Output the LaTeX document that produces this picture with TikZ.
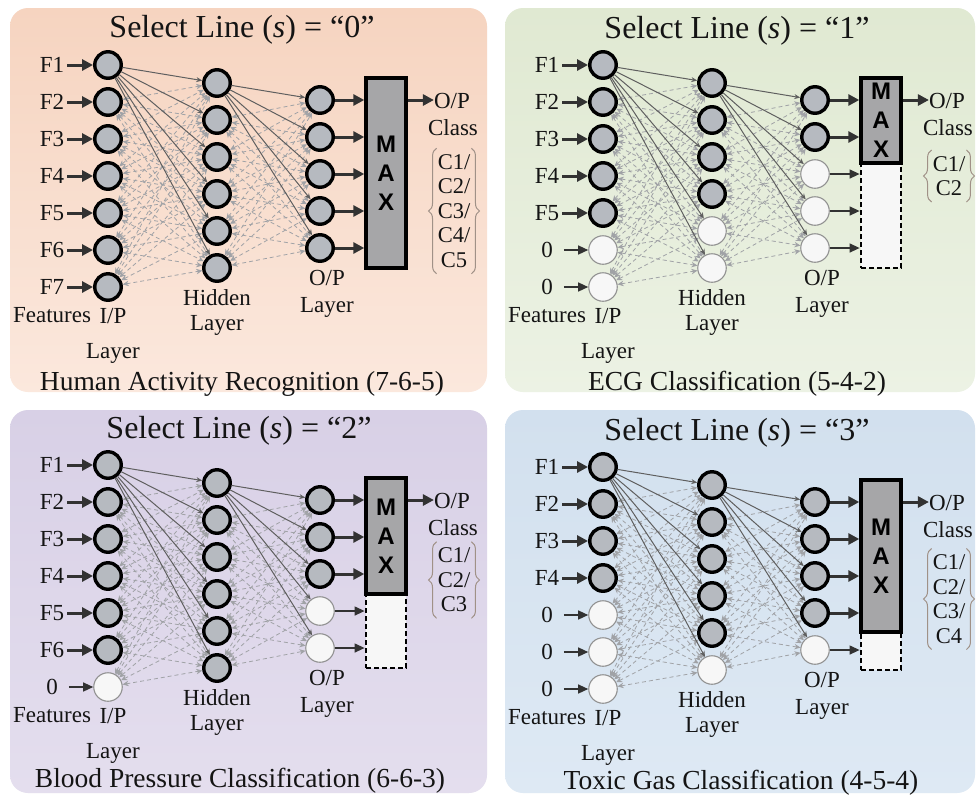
\documentclass[tikz,border=0pt]{standalone}
\usepackage{fontspec}
\setmainfont{Liberation Serif}
\newfontfamily\maxfont{Liberation Sans}
\usetikzlibrary{arrows.meta,decorations.pathreplacing}
\definecolor{nodegray}{RGB}{182,186,192}
\definecolor{boxgray}{RGB}{166,166,168}
\definecolor{inactborder}{RGB}{145,145,145}
\definecolor{inactfill}{RGB}{247,247,247}
\definecolor{solidgray}{RGB}{95,95,95}
\definecolor{dashgray}{RGB}{160,162,166}
\definecolor{arrgray}{RGB}{50,50,50}
\definecolor{bracec}{RGB}{160,145,135}
\definecolor{textc}{RGB}{20,20,20}
\definecolor{pAt}{RGB}{246,212,192}
\definecolor{pAb}{RGB}{251,232,221}
\definecolor{pBt}{RGB}{224,233,210}
\definecolor{pBb}{RGB}{236,242,228}
\definecolor{pCt}{RGB}{216,208,230}
\definecolor{pCb}{RGB}{228,222,238}
\definecolor{pDt}{RGB}{210,224,238}
\definecolor{pDb}{RGB}{222,233,244}
\tikzset{
  act/.style={circle, draw=black, line width=3.4pt, fill=nodegray, minimum size=26.5pt, inner sep=0pt},
  inact/.style={circle, draw=inactborder, line width=1.1pt, fill=inactfill, minimum size=28.5pt, inner sep=0pt},
  solidcon/.style={draw=solidgray, line width=1pt, -{Stealth[length=6pt,width=5pt]}},
  dashcon/.style={draw=dashgray, line width=0.8pt, dash pattern=on 4pt off 3pt,
     {Stealth[length=6pt,width=5.5pt]}-{Stealth[length=6pt,width=5.5pt]}},
  thickarr/.style={draw=arrgray, line width=3pt, -{Triangle[length=11pt,width=11pt]}},
  thinarr/.style={draw=arrgray, line width=1.3pt, -{Triangle[length=10pt,width=9pt]}},
  lbl/.style={font=\fontsize{23}{25}\selectfont, inner sep=0pt, text=textc},
  bl/.style={lbl, anchor=base},
  ttl/.style={font=\fontsize{32}{34}\selectfont, inner sep=0pt, text=textc, anchor=base},
  captxt/.style={font=\fontsize{27.5}{30}\selectfont, inner sep=0pt, text=textc, anchor=base},
  maxl/.style={font=\maxfont\bfseries\fontsize{24}{26}\selectfont, inner sep=0pt, text=black},
  cls/.style={font=\fontsize{22.5}{24.5}\selectfont, align=center, inner xsep=1pt, inner ysep=6pt, text=textc},
  bracepath/.style={decorate, decoration={brace, amplitude=8pt}, draw=bracec, line width=1pt},
  maxbox/.style={draw=black, line width=3.4pt, fill=boxgray, minimum width=40pt, inner sep=0pt},
  extbox/.style={draw=black, line width=2.8pt, dash pattern=on 5pt off 3pt, fill=inactfill, minimum width=40pt, inner sep=0pt},
}
% #1 prefix, #2 dx, #3 dy, #4 active inputs, #5 active hidden, #6 active outputs,
% #7 gray box bottom, #8 class list centre y, #9 class list
\newcommand\drawnet[9]{%
\begin{scope}[shift={(#2,#3)}]
\foreach \i [evaluate=\i as \yy using 65+37*(\i-1)] in {1,...,7}{%
  \ifnum\i>#4\relax
    \node[inact] (#1i\i) at (108,\yy) {};
    \node[lbl] (#1f\i) at (52,\yy) {0};
    \draw[thinarr] ([xshift=11pt]#1f\i.east) -- (#1i\i);
  \else
    \node[act] (#1i\i) at (108,\yy) {};
    \node[lbl] (#1f\i) at (52,\yy) {F\i};
    \draw[thickarr] ([xshift=3pt]#1f\i.east) -- (#1i\i);
  \fi
}
\foreach \i [evaluate=\i as \yy using 83+37*(\i-1)] in {1,...,6}{%
  \ifnum\i>#5\relax
    \node[inact] (#1h\i) at (217,\yy) {};
  \else
    \node[act] (#1h\i) at (217,\yy) {};
  \fi
}
\foreach \i [evaluate=\i as \yy using 100+37*(\i-1)] in {1,...,5}{%
  \ifnum\i>#6\relax
    \node[inact] (#1o\i) at (320,\yy) {};
  \else
    \node[act] (#1o\i) at (320,\yy) {};
  \fi
}
\foreach \a in {2,...,7}{\foreach \b in {1,...,6}{\draw[dashcon] (#1i\a) -- (#1h\b);}}
\foreach \b in {1,...,6}{\draw[solidcon] (#1i1) -- (#1h\b);}
\foreach \a in {2,...,6}{\foreach \b in {1,...,5}{\draw[dashcon] (#1h\a) -- (#1o\b);}}
\foreach \b in {1,...,5}{\draw[solidcon] (#1h1) -- (#1o\b);}
\ifnum#7<268\relax
  \node[extbox, minimum height={(268-#7)*1pt}] (#1ext) at (386,{(268+#7)/2}) {};
\fi
\node[maxbox, minimum height={(#7-78)*1pt}] (#1max) at (386,{(78+#7)/2}) {};
\node[maxl] (#1M) at (386,{(78+#7)/2-29}) {M};
\node[maxl] (#1A) at (386,{(78+#7)/2}) {A};
\node[maxl] (#1X) at (386,{(78+#7)/2+29}) {X};
\foreach \i in {1,...,5}{%
  \ifnum\i>#6\relax
    \draw[thinarr] (#1o\i) -- (#1o\i -| #1ext.west);
  \else
    \draw[thickarr] (#1o\i) -- (#1o\i -| #1max.west);
  \fi
}
\node[bl] (#1op) at (452,108) {O/P};
\draw[thickarr] (#1max.east |- 0,100) -- ([yshift=8pt]#1op.base west);
\node[bl] (#1cl) at (453,135) {Class};
\node[cls] (#1cs) at (454,#8) {#9};
\draw[bracepath] (#1cs.south west) -- (#1cs.north west);
\draw[bracepath] (#1cs.north east) -- (#1cs.south east);
\node[bl] (#1ft) at (52,322) {Features};
\node[bl] (#1ip) at (113,323) {I/P};
\node[bl] (#1il) at (113,358) {Layer};
\node[bl] (#1hd) at (217,305) {Hidden};
\node[bl] (#1hl) at (217,330) {Layer};
\node[bl] (#1opl) at (327,285) {O/P};
\node[bl] (#1oll) at (327,312) {Layer};
\end{scope}
}
\begin{document}
\begin{tikzpicture}[x=1pt,y=-1pt]
\useasboundingbox (0,0) rectangle (977,796);
\fill[white] (0,0) rectangle (977,796);
\shade[top color=pAt, bottom color=pAb, rounded corners=18pt] (10,8) rectangle (487,392);
\shade[top color=pBt, bottom color=pBb, rounded corners=18pt] (505,8) rectangle (975,392);
\shade[top color=pCt, bottom color=pCb, rounded corners=18pt] (10,410) rectangle (487,793);
\shade[top color=pDt, bottom color=pDb, rounded corners=18pt] (505,410) rectangle (975,793);

\node[ttl] (t1) at (242,37) {Select Line (\textit{s}) = “0”};
\node[ttl] (t2) at (737,38) {Select Line (\textit{s}) = “1”};
\node[ttl] (t3) at (239,438) {Select Line (\textit{s}) = “2”};
\node[ttl] (t4) at (737,440) {Select Line (\textit{s}) = “3”};

\node[captxt] (c1) at (242,390) {Human Activity Recognition (7-6-5)};
\node[captxt] (c2) at (737,390) {ECG Classification (5-4-2)};
\node[captxt] (c3) at (240,787) {Blood Pressure Classification (6-6-3)};
\node[captxt] (c4) at (741,789) {Toxic Gas Classification (4-5-4)};

\drawnet{a}{0}{0}{7}{6}{5}{268}{211}{C1/\\C2/\\C3/\\C4/\\C5}
\drawnet{b}{495}{0}{5}{4}{2}{163}{176}{C1/\\C2}
\drawnet{c}{0}{400}{6}{6}{3}{194}{180}{C1/\\C2/\\C3}
\drawnet{d}{495}{402}{4}{5}{4}{230}{197}{C1/\\C2/\\C3/\\C4}
\end{tikzpicture}
\end{document}
